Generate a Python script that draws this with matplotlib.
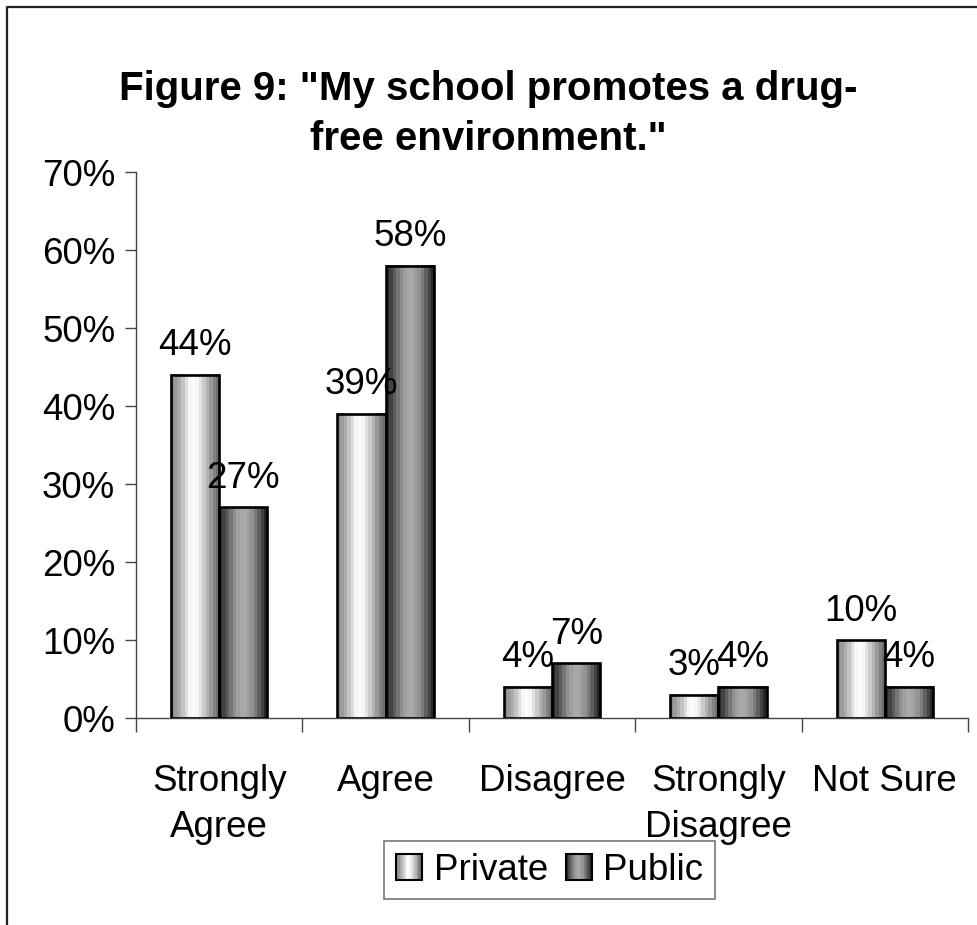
import numpy as np
import matplotlib
matplotlib.use("Agg")
import matplotlib.pyplot as plt
from matplotlib.patches import Rectangle
from matplotlib.lines import Line2D
from matplotlib.legend_handler import HandlerPatch

# ---- data ----
categories = ["Strongly\nAgree", "Agree", "Disagree", "Strongly\nDisagree", "Not Sure"]
series_names = ["Private", "Public"]
private = [44, 39, 4, 3, 10]
public = [27, 58, 7, 4, 4]
y_ticks = [0, 10, 20, 30, 40, 50, 60, 70]
title = 'Figure 9: "My school promotes a drug-\nfree environment."'

plt.rcParams["font.family"] = ["Liberation Sans", "DejaVu Sans"]

W, H = 977, 925
fig = plt.figure(figsize=(W / 100, H / 100), dpi=100)
fig.patch.set_facecolor("white")

# frame lines along the top and left edges of the chart area
fig.add_artist(Line2D([7 / W, 7 / W, 1.0], [0.0, 1 - 7 / H, 1 - 7 / H],
                      transform=fig.transFigure, color="#222222", lw=1.6))

ax = fig.add_axes([136 / W, 1 - 718 / H, 832 / W, 546 / H])

# cylinder-like horizontal shading profiles (stepped bands)
def banded(stops_t, stops_v, n=14):
    t = (np.arange(n) + 0.5) / n
    v = np.interp(t, stops_t, stops_v)
    return np.repeat(v[None, :], 2, axis=0)

shade_private = banded([0, 0.2, 0.42, 0.55, 0.75, 0.9, 1.0],
                       [0.5, 0.7, 1.0, 0.96, 0.7, 0.5, 0.4])
shade_public = banded([0, 0.15, 0.35, 0.5, 0.7, 0.87, 1.0],
                      [0.12, 0.32, 0.6, 0.68, 0.56, 0.3, 0.1])

x = np.arange(len(categories))
bw = 0.29
series = [(private, shade_private, -bw / 2), (public, shade_public, bw / 2)]

for vals, shade, off in series:
    bars = ax.bar(x + off, vals, width=bw, facecolor="none",
                  edgecolor="black", linewidth=1.9, zorder=3)
    for rect, v in zip(bars, vals):
        x0 = rect.get_x()
        ax.imshow(shade, cmap="gray", vmin=0, vmax=1, aspect="auto",
                  interpolation="nearest",
                  extent=(x0, x0 + rect.get_width(), 0, rect.get_height()),
                  zorder=2)
        ax.annotate(f"{v}%", (x0 + rect.get_width() / 2, rect.get_height()),
                    xytext=(0, 14), textcoords="offset points",
                    ha="center", va="baseline", fontsize=26.5, zorder=5)

ax.set_xlim(-0.5, len(categories) - 0.5)
ax.set_ylim(0, 70)
ax.set_yticks(y_ticks)
ax.set_yticklabels([f"{t}%" for t in y_ticks], fontsize=26.5)
ax.tick_params(axis="y", direction="out", length=8, width=1, color="#444444", pad=7)

ax.set_xticks(x)
ax.set_xticklabels(categories, fontsize=26.5, linespacing=1.4)
ax.set_xticks(np.arange(len(categories) + 1) - 0.5, minor=True)
ax.tick_params(axis="x", which="major", length=0, pad=33)
ax.tick_params(axis="x", which="minor", direction="out", length=10, width=1,
               color="#444444")

for s in ["top", "right"]:
    ax.spines[s].set_visible(False)
for s in ["left", "bottom"]:
    ax.spines[s].set_color("#444444")
    ax.spines[s].set_linewidth(1)

fig.text(0.5, 1 - 114 / H, title, ha="center", va="center",
         fontsize=29, fontweight="bold", linespacing=1.38)


# legend keys drawn as small shaded squares
class ShadedHandler(HandlerPatch):
    def __init__(self, shade, **kw):
        super().__init__(**kw)
        self.shade = shade[0]

    def create_artists(self, legend, orig_handle, xdescent, ydescent,
                       width, height, fontsize, trans):
        side = height * 1.0
        x0 = -xdescent + (width - side) / 2
        y0 = -ydescent + (height - side) / 2
        n = len(self.shade)
        arts = []
        for i, g in enumerate(self.shade):
            r = Rectangle((x0 + i * side / n, y0), side / n, side,
                          facecolor=(g, g, g), edgecolor="none", transform=trans)
            arts.append(r)
        arts.append(Rectangle((x0, y0), side, side, facecolor="none",
                              edgecolor="black", linewidth=1.5, transform=trans))
        return arts


h_priv = Rectangle((0, 0), 1, 1)
h_pub = Rectangle((0, 0), 1, 1)
leg = fig.legend([h_priv, h_pub], series_names, loc="center",
                 bbox_to_anchor=(549.5 / W, 1 - 870 / H), ncol=2, fontsize=26.5,
                 frameon=True, fancybox=False, edgecolor="#555555",
                 handlelength=0.75, handletextpad=0.3, columnspacing=0.45,
                 borderpad=0.3,
                 handler_map={h_priv: ShadedHandler(shade_private),
                              h_pub: ShadedHandler(shade_public)})
leg.get_frame().set_linewidth(1.2)

fig.savefig("out.png", dpi=100, facecolor="white")
